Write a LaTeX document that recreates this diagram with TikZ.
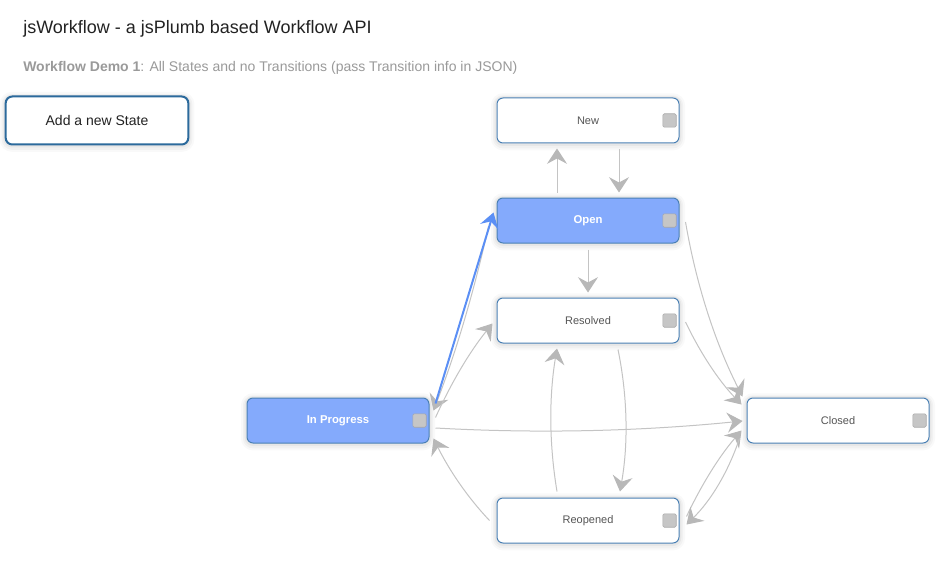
\documentclass[tikz,border=0pt]{standalone}
\usepackage{fontspec}
\setmainfont{Liberation Sans}
\usetikzlibrary{arrows.meta,calc}
\definecolor{nodeborder}{HTML}{4A80B4}
\definecolor{btnborder}{HTML}{2C6A9C}
\definecolor{fillblue}{HTML}{84AAFC}
\definecolor{linegrey}{HTML}{C4C4C4}
\definecolor{arrowgrey}{HTML}{B8B8B8}
\definecolor{blueline}{HTML}{5B8FF5}
\definecolor{epfill}{HTML}{C6C6C6}
\definecolor{epborder}{HTML}{A8A8A8}
\definecolor{txtgrey}{HTML}{555555}
\definecolor{subgrey}{HTML}{9A9A9A}
\definecolor{titlecol}{HTML}{222222}
\tikzset{
  softshadow/.style={
    preaction={draw=black, draw opacity=0.025, line width=9pt, transform canvas={yshift=-1pt}},
    preaction={draw=black, draw opacity=0.03, line width=6pt, transform canvas={yshift=-1pt}},
    preaction={draw=black, draw opacity=0.04, line width=3.5pt, transform canvas={yshift=-0.5pt}}},
  state/.style={draw=nodeborder, line width=0.75pt, rounded corners=4.5pt, fill=white,
    minimum width=136.5pt, minimum height=33.75pt, inner sep=0pt,
    font=\fontsize{8.25}{10}\selectfont, text=txtgrey, softshadow},
  active/.style={state, fill=fillblue, text=white, font=\fontsize{8.5}{10}\selectfont\bfseries},
  ep/.style={draw=epborder, fill=epfill, line width=0.5pt, rounded corners=1pt, minimum size=10pt, inner sep=0pt},
  conn/.style={draw=linegrey, line width=0.75pt, -{Stealth[length=11.5pt,width=15pt,inset=4pt,color=arrowgrey]}},
  hot/.style={draw=blueline, line width=1.5pt, -{Stealth[length=11pt,width=14pt,inset=4pt]}},
  addbtn/.style={draw=btnborder, line width=1.5pt, rounded corners=5pt, fill=white,
    minimum width=137pt, minimum height=36pt, inner sep=0pt,
    font=\fontsize{10.5}{12}\selectfont, text=titlecol, softshadow},
}
\begin{document}
\begin{tikzpicture}[x=0.75pt, y=-0.75pt]
\useasboundingbox (0,0) rectangle (941,563);
\fill[white] (0,0) rectangle (941,563);

\node[anchor=base west, text=titlecol, font=\fontsize{13.5}{16}\selectfont, inner sep=0pt] (title) at (23,34) {jsWorkflow - a jsPlumb based Workflow API};
\node[anchor=base west, text=subgrey, font=\fontsize{10.5}{13}\selectfont, inner sep=0pt] (subtitle) at (23,72) {\textbf{Workflow Demo 1}: All States and no Transitions (pass Transition info in JSON)};

\node[addbtn] (add) at (97,120.5) {Add a new State};

\node[state] (new) at (588,120.5) {New};
\node[active] (open) at (588,220.5) {Open};
\node[state] (resolved) at (588,320.5) {Resolved};
\node[active] (inprog) at (338,420.5) {In Progress};
\node[state] (closed) at (838,420.5) {Closed};
\node[state] (reopened) at (588,520.5) {Reopened};

\node[ep] (newep) at ($(new.east)+(-10,0)$) {};
\node[ep] (openep) at ($(open.east)+(-10,0)$) {};
\node[ep] (resolvedep) at ($(resolved.east)+(-10,0)$) {};
\node[ep] (inprogep) at ($(inprog.east)+(-10,0)$) {};
\node[ep] (closedep) at ($(closed.east)+(-10,0)$) {};
\node[ep] (reopenedep) at ($(reopened.east)+(-10,0)$) {};

% straight connectors
\draw[conn] ($(open.north)+(-31,-5)$) -- ($(new.south)+(-31,5)$);
\draw[conn] ($(new.south)+(31,6)$) -- ($(open.north)+(31,-5)$);
\draw[conn] ($(open.south)+(0,6)$) -- ($(resolved.north)+(0,-5)$);

% open -> in progress
\draw[conn] ($(open.west)+(-8,6)$) .. controls +(-13.7,61.5) and +(23.7,-61.5) .. ($(inprog.north east)+(4,13)$);
% in progress -> resolved
\draw[conn] ($(inprog.east)+(6,-3)$) .. controls +(15.3,-33.8) and +(-23.3,28.8) .. ($(resolved.west)+(-4,3)$);
% in progress -> closed
\draw[conn] ($(inprog.east)+(6,7.5)$) .. controls +(102.7,5.7) and +(-102.7,10.3) .. ($(closed.west)+(-4,0.5)$);
% reopened -> in progress
\draw[conn] ($(reopened.west)+(-7,0)$) .. controls +(-23,-24.3) and +(15,30.3) .. ($(inprog.east)+(4,18)$);
% reopened -> resolved
\draw[conn] ($(reopened.north)+(-31,-6)$) .. controls +(-8,-48) and +(-8,48) .. ($(resolved.south)+(-31,5)$);
% resolved -> reopened
\draw[conn] ($(resolved.south)+(30,6)$) .. controls +(9.7,47.7) and +(8.3,-47.7) .. ($(reopened.north)+(32,-6)$);
% open -> closed
\draw[conn] ($(open.east)+(6,1.5)$) .. controls +(10.5,61.2) and +(-28.1,-55.2) .. ($(closed.west)+(-4,-24)$);
% resolved -> closed
\draw[conn] ($(resolved.east)+(6,1.5)$) .. controls +(14.6,30.5) and +(-23.4,-24.5) .. ($(closed.west)+(-5,-16)$);
% reopened -> closed
\draw[conn] ($(reopened.east)+(7,-4)$) .. controls +(14.8,-31.3) and +(-22.6,26.1) .. ($(closed.west)+(-5,10)$);
% closed -> reopened
\draw[conn] ($(closed.west)+(-7,18)$) .. controls +(-11.2,33) and +(24.8,-24.4) .. ($(reopened.east)+(7,4)$);

% in progress -> open (highlighted)
\draw[hot] ($(inprog.north east)+(6,6)$) -- ($(open.west)+(-3,-8)$);
\end{tikzpicture}
\end{document}
